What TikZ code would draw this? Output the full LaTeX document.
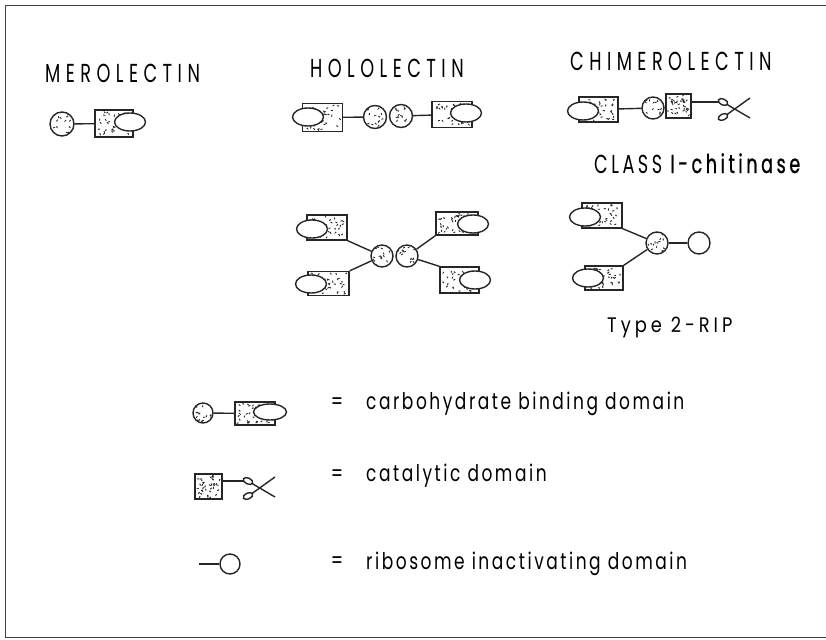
\documentclass[tikz,border=0pt]{standalone}
\usepackage{fontspec}
\newfontfamily\lbl[FakeStretch=0.68,LetterSpace=21]{Poppins}
\newfontfamily\ripfont[FakeStretch=0.85,LetterSpace=19]{Poppins}
\newfontfamily\keyfont[FakeStretch=0.74,LetterSpace=11]{Poppins}
\usetikzlibrary{shapes.geometric,calc}

\tikzset{
  ink/.style={line width=1.4pt, draw=black!85},
  % random stipple inside a closed shape
  speckle/.style={path picture={
    \foreach \k in {1,...,#1}{
      \pgfmathsetmacro\su{0.07+0.86*rnd}
      \pgfmathsetmacro\sv{0.07+0.86*rnd}
      \pgfmathsetmacro\sa{360*rnd}
      \coordinate (pA) at ($(path picture bounding box.south west)!\sv!(path picture bounding box.north west)$);
      \coordinate (pB) at ($(path picture bounding box.south east)!\sv!(path picture bounding box.north east)$);
      \fill[black!85] ($(pA)!\su!(pB)$) circle (0.65pt);
      \draw[black!85, line width=0.7pt] ($(pA)!\su!(pB)$) -- ++(\sa:1.6pt);
    }}},
  box/.style={rectangle, ink, fill=white, inner sep=0pt, minimum width=40pt, minimum height=25pt, speckle=38},
  bead/.style={circle, ink, fill=white, inner sep=0pt, minimum size=22pt, speckle=15},
  ring/.style={circle, ink, fill=white, inner sep=0pt, minimum size=22pt},
  lobe/.style={ellipse, ink, fill=white, inner sep=0pt, minimum width=31pt, minimum height=18pt},
  link/.style={ink},
  heading/.style={font=\lbl\fontsize{26}{30}\selectfont, anchor=base west, inner sep=0pt},
  keytext/.style={font=\keyfont\fontsize{23}{27}\selectfont, anchor=base west, inner sep=0pt},
  eqsign/.style={font=\keyfont\fontsize{23}{27}\selectfont, inner sep=0pt},
  scissors/.pic={
    \coordinate (-in) at (-5,0);
    \draw[ink, rotate around={-25:(0,0)}] (0,0) ellipse [x radius=5pt, y radius=3pt];
    \draw[ink, rotate around={25:(0,15)}] (0,15) ellipse [x radius=5pt, y radius=3pt];
    \draw[ink] (4,2.5) -- (27,16);
    \draw[ink] (4,12.5) -- (27,-4);
  }
}

\begin{document}
\begin{tikzpicture}[x=1pt, y=-1pt]
\pgfmathsetseed{4711}
\useasboundingbox (0,0) rectangle (826,639);

% frame
\draw[line width=1.2pt, black!75] (826,5.5) -- (5.5,5.5) -- (5.5,637.5) -- (826,637.5);

% headings
\node[heading] (tMero)  at (45,83)  {MEROLECTIN};
\node[heading] (tHolo)  at (310,78) {HOLOLECTIN};
\node[heading] (tChim)  at (570,71) {CHIMEROLECTIN};
\node[heading] (tChit)  at (594,173) {\addfontfeature{LetterSpace=13.5}CLASS {\addfontfeature{FakeBold=0.8}I-chitinase}};
\node[heading, font=\ripfont\fontsize{21}{25}\selectfont] (tRip) at (607,332) {Type 2-RIP};

% merolectin
\node[bead, minimum size=24pt] (mc) at (62,124) {};
\node[box, minimum width=38pt, minimum height=27pt] (mr) at (114,123.5) {};
\node[lobe] (me) at (130,122) {};
\draw[link] (mc) -- (mr);

% hololectin
\node[box, minimum height=28pt] (hr1) at (322.5,117.5) {};
\node[lobe] (he1) at (308,117) {};
\node[bead, minimum size=23pt] (hc1) at (375,117) {};
\node[bead, minimum size=23pt] (hc2) at (401,116) {};
\node[box, minimum height=26pt] (hr2) at (452,114.5) {};
\node[lobe] (he2) at (466,113) {};
\draw[link] (hr1) -- (hc1);
\draw[link] (hc2) -- (hr2);

% chimerolectin
\node[box, minimum width=39pt] (cr1) at (598.5,109.5) {};
\node[lobe] (ce) at (583,111) {};
\node[bead] (cc) at (653,108) {};
\node[box, minimum width=25pt, minimum height=24pt] (cr2) at (678.5,106) {};
\pic (cs) at (723,102) {scissors};
\draw[link] (cr1) -- (cc);
\draw[link] (cc) -- (cr2);
\draw[link] (cr2.east |- cs-in) -- (cs-in);

% hololectin dimer
\node[box, minimum height=25pt] (a1) at (327,227.5) {};
\node[lobe] (ae1) at (312,229) {};
\node[box, minimum width=41pt, minimum height=24pt] (a2) at (328.5,283.5) {};
\node[lobe] (ae2) at (311,284) {};
\node[bead] (ac1) at (382,256) {};
\node[bead] (ac2) at (407,256) {};
\node[box, minimum width=42pt, minimum height=23pt] (a3) at (457,223.5) {};
\node[lobe] (ae3) at (473,224) {};
\node[box, minimum width=39pt, minimum height=26pt] (a4) at (459.5,280) {};
\node[lobe] (ae4) at (475,280) {};
\draw[link] (a1.south east) -- (ac1);
\draw[link] (a2.north east) -- (ac1);
\draw[link] (ac2) -- (a3.south west);
\draw[link] (ac2) -- (a4.north west);

% type 2 RIP
\node[box] (b1) at (602,215.5) {};
\node[lobe] (be1) at (585,217) {};
\node[box, minimum width=38pt, minimum height=24pt] (b2) at (604,278) {};
\node[lobe] (be2) at (588,278) {};
\node[bead] (bc) at (657,243) {};
\node[ring] (br) at (699,243) {};
\draw[link] (b1.south east) -- (bc);
\draw[link] (b2.north east) -- (bc);
\draw[link] (bc) -- (br);

% key: carbohydrate binding domain
\node[bead, minimum size=20pt] (lc) at (203,413) {};
\node[box, minimum height=23pt] (lr) at (255,413.5) {};
\node[lobe, minimum width=33pt, minimum height=16pt] (le) at (270,412) {};
\draw[link] (lc) -- (lr);
\node[eqsign] (eq1) at (337,404) {=};
\node[keytext] (k1) at (366,409) {carbohydrate binding domain};

% key: catalytic domain
\node[box, minimum width=27pt, minimum height=25pt] (lk) at (208.5,486.5) {};
\pic (ls) at (248,481) {scissors};
\draw[link] (lk.east |- ls-in) -- (ls-in);
\node[eqsign] (eq2) at (337,476) {=};
\node[keytext] (k2) at (366,481) {catalytic domain};

% key: ribosome inactivating domain
\coordinate (lrin) at (199,564);
\node[ring, minimum size=20pt] (lrc) at (230,564) {};
\draw[link] (lrin) -- (lrc);
\node[eqsign] (eq3) at (337,563) {=};
\node[keytext] (k3) at (366,569) {ribosome inactivating domain};
\end{tikzpicture}
\end{document}
